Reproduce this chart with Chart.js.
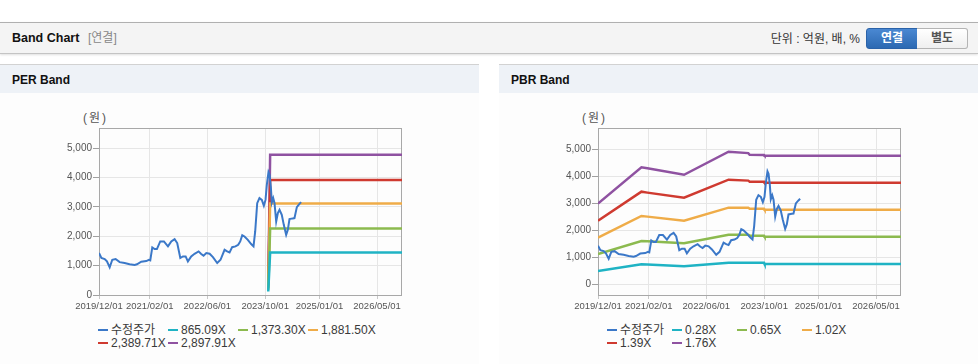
<!DOCTYPE html>
<html lang="ko">
<head>
<meta charset="UTF-8">
<title>Band Chart</title>
<script src="https://cdn.jsdelivr.net/npm/chart.js"></script>
<style>
  body { margin:0; width:978px; height:364px; position:relative; overflow:hidden; background:#fff;
         font-family:'Liberation Sans', Arial, 'Noto Sans CJK KR', sans-serif; color:#222; }
  .topbar { position:absolute; left:0; top:22px; width:978px; height:30px; background:#f4f4f4;
            border-top:1px solid #b0b0b0; border-bottom:1px solid #c4c4c4; box-shadow:0 1px 2px rgba(0,0,0,0.12); }
  .topbar .ttl { position:absolute; left:12px; top:0; line-height:31px; font-size:12.5px; font-weight:bold; color:#111; }
  .topbar .sub { position:absolute; left:88px; top:0; line-height:31px; font-size:12px; color:#888; }
  .topbar .unit { position:absolute; right:118px; top:0; line-height:32px; font-size:12px; color:#333; }
  .btn { position:absolute; top:5px; width:50px; height:19px; line-height:19px; text-align:center;
         font-size:12px; font-weight:bold; box-sizing:content-box; }
  .btn.on { left:866px; background:linear-gradient(#4a88d2, #2c69b2); color:#fff; border:1px solid #2a62a8; border-radius:3px 0 0 3px; }
  .btn.off { left:917px; background:linear-gradient(#ffffff, #efefef); color:#555; border:1px solid #b4b4b4; border-left:none; border-radius:0 3px 3px 0; }
  .panel { position:absolute; top:64px; width:479px; height:300px; border-top:1px solid #d2d2d2; background:#fdfdfd; }
  .phead { height:28px; background:#eef2f7; line-height:31px; padding-left:12px; font-size:12px; font-weight:bold; color:#111; }
  .unitlbl { position:absolute; left:83px; top:46px; font-size:12px; line-height:14px; color:#555; letter-spacing:2px; }
  .box { position:absolute; left:0; top:35px; width:479px; height:222px; }
  .legend { position:absolute; top:259px; font-size:12px; color:#3a3a3a; line-height:13.4px; }
  .legend .item { display:inline-block; white-space:nowrap; vertical-align:top; }
  .legend .mk { display:inline-block; width:10px; height:2.5px; vertical-align:middle; margin-right:3px; position:relative; top:-1px; }
</style>
</head>
<body>
  <div class="topbar">
    <span class="ttl">Band Chart</span>
    <span class="sub">[연결]</span>
    <span class="unit">단위 : 억원, 배, %</span>
    <div class="btn on">연결</div>
    <div class="btn off">별도</div>
  </div>

  <div class="panel" style="left:0">
    <div class="phead">PER Band</div>
    <div class="unitlbl">(원)</div>
    <div class="box"><canvas id="perChart" width="479" height="222"></canvas></div>
    <div class="legend" id="perLegend" style="left:98px;width:284px"></div>
  </div>

  <div class="panel" style="left:499px">
    <div class="phead">PBR Band</div>
    <div class="unitlbl">(원)</div>
    <div class="box"><canvas id="pbrChart" width="479" height="222"></canvas></div>
    <div class="legend" id="pbrLegend" style="left:108px;width:264px"></div>
  </div>

  <script>
    // x axis
    const xTickLabels = ['2019/12/01', '2021/02/01', '2022/06/01', '2023/10/01', '2025/01/01', '2026/05/01'];
    const xStart = '2019-12-01';
    const xEnd = '2026-11-27';
    const yTicks = [0, 1000, 2000, 3000, 4000, 5000];

    // 수정주가
    const priceDates = ['2019-12-01','2019-12-21','2020-01-18','2020-02-06','2020-02-29','2020-03-22','2020-04-19','2020-05-23','2020-07-04','2020-08-15','2020-09-26','2020-10-16','2020-11-21',
      '2021-01-02','2021-01-25','2021-02-05','2021-02-22','2021-03-14','2021-04-02','2021-04-30','2021-05-31','2021-07-04','2021-08-01','2021-08-29','2021-09-20','2021-10-16','2021-11-07','2021-11-30','2021-12-19',
      '2022-01-16','2022-02-13','2022-03-19','2022-04-10','2022-04-30','2022-05-23','2022-06-20','2022-07-18','2022-08-23','2022-09-20','2022-10-24','2022-11-15','2022-12-05','2022-12-27',
      '2023-01-24','2023-02-16','2023-03-05','2023-03-22','2023-04-10','2023-05-08','2023-06-05','2023-06-25','2023-07-09','2023-07-26','2023-08-14','2023-09-03','2023-09-20','2023-10-04','2023-10-15','2023-10-29','2023-11-07','2023-11-18','2023-11-26','2023-12-08','2023-12-19',
      '2024-01-02','2024-01-16','2024-01-30','2024-02-18','2024-03-06','2024-03-26','2024-04-09','2024-04-23','2024-05-21','2024-06-04','2024-06-24','2024-07-16','2024-07-30'];
    const priceValues = [1430,1260,1225,1145,940,1200,1225,1120,1090,1045,1020,1045,1135,
      1155,1200,1180,1620,1565,1565,1825,1825,1655,1825,1905,1770,1260,1315,1315,1145,
      1315,1405,1485,1395,1340,1430,1405,1290,1090,1200,1540,1485,1450,1630,
      1655,1710,1825,2040,1995,1880,1735,1655,2165,3130,3300,3240,3040,3240,3750,4185,4095,3675,3150,3300,3130,
      2505,2790,2900,2730,2390,2050,2220,2585,2610,2620,2995,3105,3165];

    // PER band
    const perLabels = ['865.09X', '1,373.30X', '1,881.50X', '2,389.71X', '2,897.91X'];
    const perDates = ['2023-10-27', '2023-11-12', '2026-11-27'];
    const per1 = [120, 1445, 1445];
    const per2 = [180, 2262, 2262];
    const per3 = [240, 3118, 3118];
    const per4 = [300, 3922, 3922];
    const per5 = [360, 4775, 4775];

    // PBR band
    const pbrLabels = ['0.28X', '0.65X', '1.02X', '1.39X', '1.76X'];
    const pbrDates = ['2019-12-01','2020-12-01','2021-01-20','2021-11-25','2022-12-05','2023-05-20','2023-06-01','2023-09-30','2023-10-05','2026-11-27'];
    const pbr1 = [493, 741, 735, 667, 795, 800, 800, 800, 752, 752];
    const pbr2 = [1122, 1604, 1590, 1518, 1837, 1837, 1800, 1800, 1763, 1763];
    const pbr3 = [1726, 2530, 2505, 2356, 2837, 2837, 2800, 2800, 2763, 2763];
    const pbr4 = [2356, 3430, 3395, 3207, 3874, 3840, 3800, 3800, 3763, 3763];
    const pbr5 = [2990, 4330, 4295, 4055, 4910, 4860, 4800, 4790, 4765, 4765];

    const priceColor = '#3b78c8';
    const bandColors = ['#1fb3c4', '#8cba4f', '#efac48', '#cf3a30', '#8f52a1'];

    function day(s) {
      const [y, m, d] = s.split('-').map(Number);
      return Date.UTC(y, m - 1, d) / 86400000;
    }
    function pts(dates, values) {
      return dates.map((d, i) => ({ x: day(d), y: values[i] }));
    }

    Chart.defaults.font.family = "'Liberation Sans', Arial, sans-serif";
    Chart.defaults.color = '#555';

    const framePlugin = {
      id: 'frame',
      beforeDatasetsDraw(chart) {
        const a = chart.chartArea, ctx = chart.ctx;
        ctx.save();
        ctx.strokeStyle = '#a8a8a8';
        ctx.lineWidth = 1;
        ctx.strokeRect(Math.round(a.left) + 0.5, Math.round(a.top) + 0.5,
                       Math.round(a.right - a.left) - 1, Math.round(a.bottom - a.top));
        ctx.restore();
      }
    };

    function makeChart(id, yMin, yMax, bands, labels, bandDates) {
      const datasets = [{
        label: '수정주가',
        data: pts(priceDates, priceValues),
        borderColor: priceColor,
        borderWidth: 2
      }];
      bands.forEach((b, i) => {
        datasets.push({
          label: labels[i],
          data: pts(bandDates, b),
          borderColor: bandColors[i],
          borderWidth: 2.5
        });
      });
      datasets.forEach(d => { d.pointRadius = 0; d.tension = 0; d.fill = false; });

      return new Chart(document.getElementById(id), {
        type: 'line',
        data: { datasets: datasets },
        options: {
          responsive: false,
          animation: false,
          layout: { padding: { top: 28, right: 77, left: 0, bottom: 0 } },
          plugins: { legend: { display: false }, tooltip: { enabled: false } },
          scales: {
            x: {
              type: 'linear',
              min: day(xStart),
              max: day(xEnd),
              afterBuildTicks: axis => { axis.ticks = xTickLabels.map(t => ({ value: day(t.replace(/\//g, '-')) })); },
              afterFit: axis => { axis.height = 27; },
              grid: { color: '#e6e6e6', tickLength: 4, tickColor: '#c8c8c8' },
              border: { display: false },
              ticks: {
                autoSkip: false, maxRotation: 0, padding: 2,
                font: { size: 9.5 }, color: '#555',
                callback: (v, i) => xTickLabels[i]
              }
            },
            y: {
              min: yMin,
              max: yMax,
              afterBuildTicks: axis => { axis.ticks = yTicks.map(v => ({ value: v })); },
              afterFit: axis => { axis.width = 99; },
              grid: { color: '#e6e6e6', tickLength: 6, tickColor: '#a0a0a0' },
              border: { display: false },
              ticks: {
                padding: 1,
                font: { size: 10 }, color: '#555',
                callback: v => v.toLocaleString('en-US')
              }
            }
          }
        },
        plugins: [framePlugin]
      });
    }

    function makeLegend(id, labels, itemWidth) {
      const el = document.getElementById(id);
      const names = ['수정주가'].concat(labels);
      const colors = [priceColor].concat(bandColors);
      names.forEach((n, i) => {
        const it = document.createElement('span');
        it.className = 'item';
        it.style.width = itemWidth + 'px';
        it.innerHTML = '<span class="mk" style="background:' + colors[i] + '"></span>' + n;
        el.appendChild(it);
      });
    }

    makeChart('perChart', 0, 5690, [per1, per2, per3, per4, per5], perLabels, perDates);
    makeChart('pbrChart', -400, 5790, [pbr1, pbr2, pbr3, pbr4, pbr5], pbrLabels, pbrDates);
    makeLegend('perLegend', perLabels, 70);
    makeLegend('pbrLegend', pbrLabels, 65);
  </script>
</body>
</html>
